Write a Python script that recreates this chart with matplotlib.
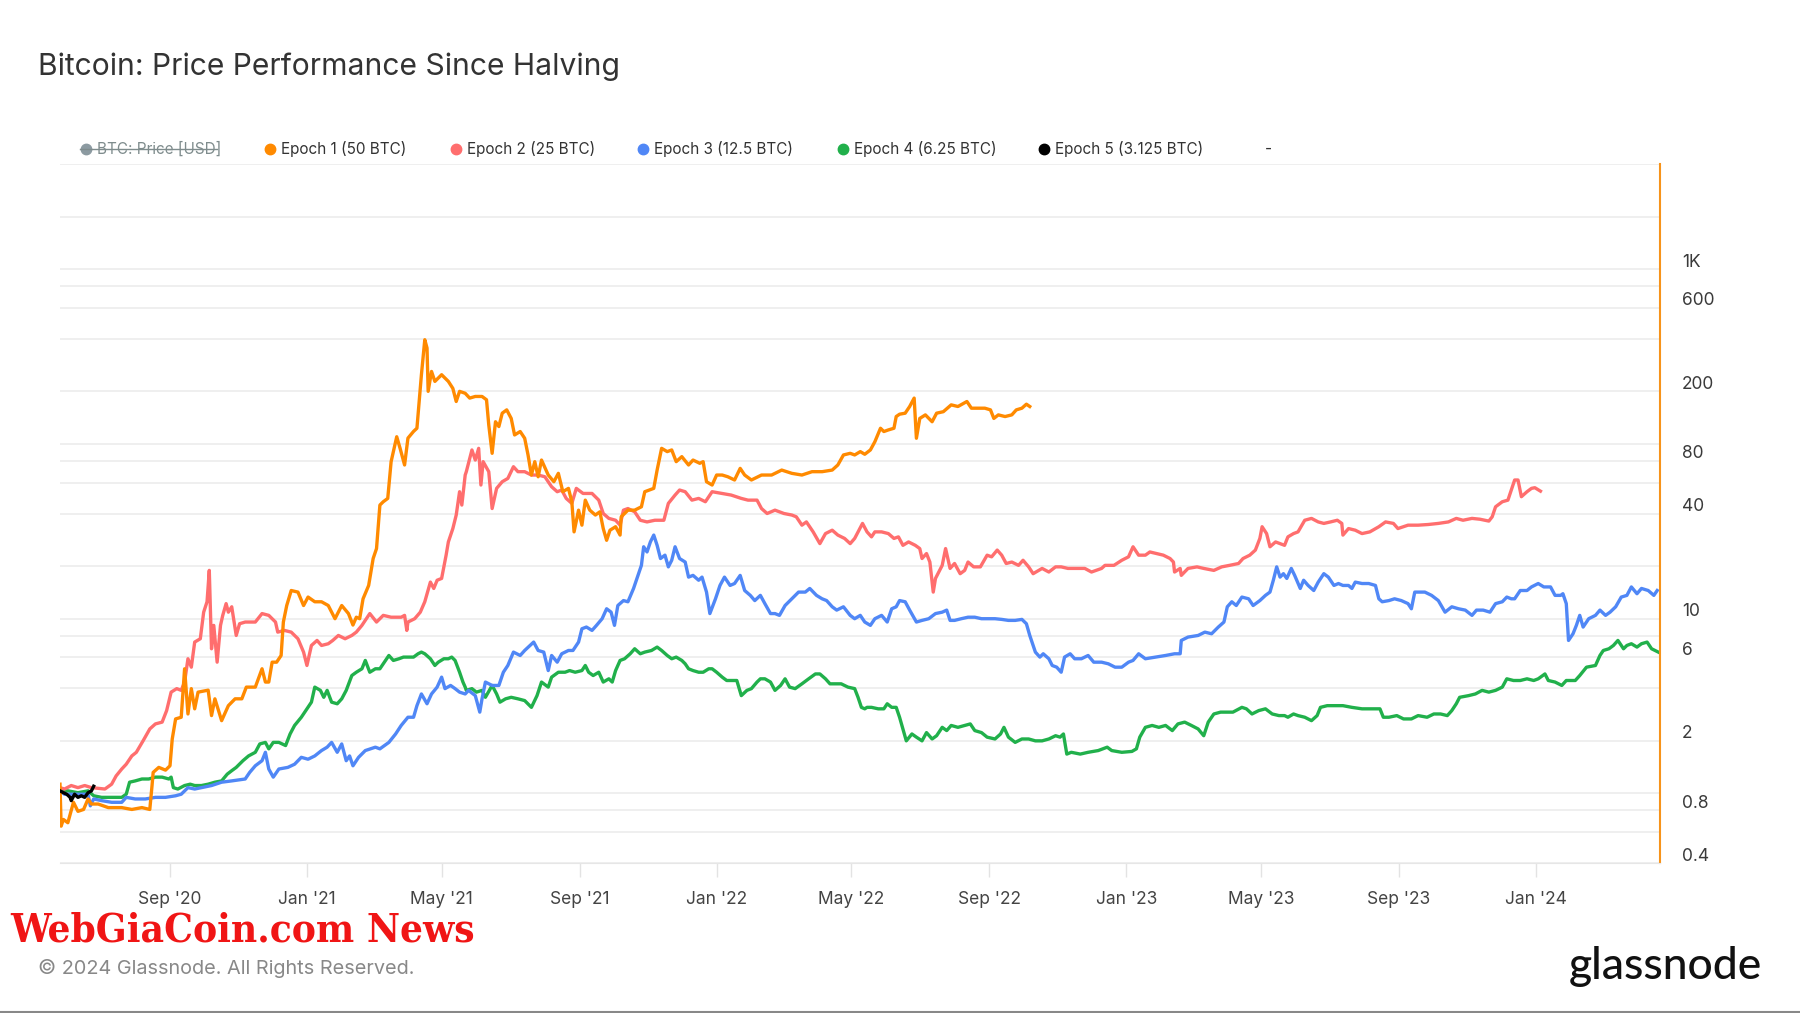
import pandas as pd
import matplotlib
matplotlib.use("Agg")
import matplotlib.pyplot as plt
import matplotlib.dates as mdates
from matplotlib.lines import Line2D
from matplotlib.transforms import ScaledTranslation

plt.rcParams['font.family'] = ['Inter', 'DejaVu Sans']

# x axis: days counted from this date
start = pd.Timestamp('2020-05-26')

# Epoch 1 (50 BTC)
e1_day = [0, 1, 3, 7, 12, 16, 21, 25, 28, 34, 43, 55, 64, 73, 80, 82, 83, 88, 94, 98,
          100, 103, 108, 111, 114, 117, 120, 123, 132, 135, 138, 144, 150, 156, 162, 166, 174, 180, 183, 186,
          189, 193, 197, 199, 202, 206, 212, 217, 221, 227, 233, 239, 245, 251, 257, 261, 264, 267, 270, 275,
          279, 282, 285, 288, 292, 295, 300, 303, 307, 310, 315, 318, 322, 325, 327, 328, 331, 334, 340, 346,
          350, 353, 356, 361, 365, 370, 376, 380, 382, 385, 388, 391, 394, 398, 402, 405, 410, 414, 417, 420,
          423, 426, 429, 435, 440, 444, 448, 453, 456, 458, 462, 465, 468, 472, 477, 481, 484, 487, 490, 495,
          499, 500, 506, 512, 518, 521, 529, 532, 536, 541, 545, 549, 554, 560, 564, 570, 573, 576, 581, 585,
          590, 595, 601, 606, 610, 616, 625, 634, 643, 652, 661, 670, 679, 688, 693, 698, 704, 708, 713, 717,
          722, 726, 731, 734, 738, 743, 745, 748, 753, 757, 761, 763, 766, 771, 777, 781, 787, 794, 800, 808,
          812, 818, 824, 829, 832, 836, 842, 848, 852, 857, 861, 864]
e1_val = [1.13, 0.65, 0.71, 0.68, 0.89, 0.79, 0.81, 0.93, 0.87, 0.87, 0.83, 0.83, 0.81, 0.83, 0.81, 1.11, 1.32, 1.41, 1.36, 1.44,
          2.05, 2.67, 2.73, 5.17, 2.85, 3.98, 3.05, 3.80, 3.90, 2.79, 3.48, 2.61, 3.18, 3.48, 3.48, 4.06, 4.06, 5.17, 4.34, 4.34,
          5.64, 5.64, 6.16, 9.57, 11.9, 14.5, 14.2, 11.9, 13.3, 12.5, 12.5, 11.9, 10.0, 11.9, 10.7, 9.2, 10.2, 10.0, 13.0, 15.5,
          22.1, 25.2, 44.7, 46.7, 48.8, 79.2, 110, 94.4, 75.8, 108, 118, 123, 249, 395, 354, 200, 260, 228, 249, 228,
          208, 175, 200, 195, 183, 187, 187, 179, 128.5, 88.4, 134, 125.8, 150, 156.7, 140, 112.6, 117.8, 107.8, 86.5, 66.4,
          79.2, 64.9, 80.9, 66.4, 60.8, 67.9, 53.3, 55.7, 46.7, 31.4, 41.8, 34.3, 47.7, 41.8, 39.2, 40.9, 32.8, 28.1, 32.1, 33.6,
          30.1, 38.3, 41.8, 41.8, 43.7, 53.3, 55.7, 70.9, 94.4, 90.4, 92.4, 79.2, 84.6, 75.8, 80.9, 77.5, 79.2, 60.8, 58.2, 66.4,
          66.4, 64.9, 62.2, 72.5, 66.4, 62.2, 66.4, 66.4, 70.9, 67.9, 66.4, 69.4, 69.4, 70.9, 75.8, 86.5, 88.4, 86.5, 90.4, 87.3,
          92.4, 103, 123, 117.8, 120.3, 123, 143.5, 148, 150, 163.8, 183, 107.8, 140, 146.7, 134, 150, 153, 167.4, 163.8, 175,
          160.2, 160.2, 160.2, 156.7, 140, 146.7, 143.5, 146.7, 156.7, 160.2, 168.9, 163.8]

# Epoch 2 (25 BTC)
e2_day = [0, 4, 10, 16, 22, 28, 34, 40, 46, 50, 55, 59, 64, 68, 74, 80, 85, 91, 95, 99,
          104, 108, 111, 114, 117, 120, 125, 128, 131, 133, 135, 137, 140, 143, 145, 148, 150, 153, 157, 160,
          165, 171, 174, 180, 186, 192, 194, 200, 206, 212, 217, 220, 224, 229, 233, 239, 243, 248, 254, 260,
          264, 269, 276, 282, 288, 295, 304, 307, 309, 310, 316, 321, 325, 330, 333, 336, 340, 344, 346, 350,
          353, 356, 358, 361, 362, 367, 370, 373, 375, 377, 382, 385, 389, 394, 399, 404, 408, 414, 420, 426,
          432, 438, 443, 447, 451, 456, 460, 466, 474, 480, 484, 489, 495, 499, 502, 506, 512, 517, 523, 530,
          538, 542, 548, 552, 557, 563, 569, 575, 581, 590, 598, 607, 613, 621, 625, 630, 637, 645, 652, 656,
          661, 665, 671, 677, 682, 688, 693, 699, 704, 708, 715, 719, 723, 726, 732, 738, 743, 747, 751, 756,
          762, 766, 768, 772, 775, 778, 780, 786, 789, 793, 797, 802, 806, 809, 814, 820, 826, 830, 835, 839,
          843, 848, 854, 858, 863, 867, 875, 881, 887, 892, 898, 904, 913, 919, 928, 931, 939, 946, 952, 956,
          961, 967, 971, 977, 983, 989, 992, 993, 998, 999, 1005, 1013, 1019, 1028, 1035, 1042, 1050, 1054, 1060, 1065,
          1069, 1071, 1075, 1078, 1083, 1087, 1091, 1094, 1099, 1103, 1109, 1115, 1121, 1126, 1132, 1138, 1142, 1143, 1148, 1154,
          1160, 1167, 1175, 1181, 1188, 1192, 1201, 1210, 1219, 1228, 1237, 1244, 1250, 1258, 1265, 1273, 1276, 1279, 1285, 1290,
          1293, 1296, 1299, 1302, 1307, 1311, 1314, 1319]
e2_val = [1.08, 1.06, 1.11, 1.08, 1.11, 1.08, 1.07, 1.06, 1.13, 1.26, 1.38, 1.47, 1.64, 1.72, 2.0, 2.34, 2.5, 2.56, 2.98, 3.8,
          3.98, 3.89, 4.34, 5.9, 5.28, 7.35, 7.68, 10.9, 12.5, 18.9, 6.73, 9.16, 5.64, 9.16, 10.45, 12.2, 10.9, 11.7, 8.02, 9.36,
          9.57, 9.57, 9.57, 10.7, 10.45, 9.57, 8.38, 8.57, 8.38, 7.68, 6.44, 5.40, 7.03, 7.51, 7.03, 7.19, 7.51, 8.02, 7.68, 8.02,
          8.38, 9.16, 10.7, 9.57, 10.45, 10.2, 10.2, 10.45, 8.57, 9.57, 10.0, 10.9, 12.5, 16.2, 14.9, 16.6, 17.0, 23.1, 27.5, 32.8,
          39.2, 53.3, 44.7, 66.4, 69.4, 92.4, 80.9, 94.4, 58.2, 79.2, 69.4, 42.7, 55.7, 60.8, 63.5, 74.1, 69.4, 69.4, 66.4, 66.4,
          64.9, 56.9, 53.3, 54.5, 48.8, 45.7, 55.7, 52.1, 52.1, 47.7, 40.0, 37.5, 36.6, 34.3, 41.8, 42.7, 40.9, 36.6, 35.8, 36.6,
          36.6, 45.7, 51.0, 54.5, 53.3, 47.7, 48.8, 46.7, 53.3, 52.1, 51.0, 48.8, 47.7, 47.7, 42.7, 40.0, 41.8, 40.0, 39.2, 38.3,
          34.3, 35.8, 31.4, 26.9, 30.7, 32.1, 30.1, 28.8, 26.9, 28.8, 35.1, 31.4, 29.4, 31.4, 31.4, 30.7, 28.8, 29.4, 26.3, 27.5,
          26.3, 25.2, 22.1, 23.6, 21.1, 14.2, 17.0, 20.2, 25.2, 19.4, 20.7, 18.1, 18.9, 21.1, 19.8, 19.8, 23.1, 22.6, 24.7, 23.1,
          20.7, 21.1, 20.2, 21.6, 19.8, 18.1, 19.4, 18.5, 19.8, 19.8, 19.4, 19.4, 19.4, 18.5, 19.4, 20.2, 20.2, 21.6, 22.6, 25.8,
          23.1, 23.1, 24.1, 23.6, 23.1, 22.1, 21.1, 18.5, 19.4, 17.7, 19.4, 19.8, 19.4, 18.9, 19.8, 20.2, 20.7, 22.1, 23.1, 24.7,
          28.8, 33.6, 30.7, 25.8, 27.5, 26.9, 26.3, 29.4, 30.7, 31.4, 36.6, 37.5, 35.8, 35.1, 35.8, 36.6, 35.1, 30.1, 32.8, 32.1,
          30.7, 31.4, 33.6, 35.8, 35.1, 32.8, 34.3, 34.3, 34.6, 35.1, 35.8, 37.5, 36.6, 37.5, 37.1, 36.2, 38.3, 43.7, 46.7, 47.7,
          54.5, 62.2, 62.2, 49.9, 53.3, 55.7, 56.2, 53.7]

# Epoch 3 (12.5 BTC)
e3_day = [0, 4, 13, 25, 27, 30, 37, 46, 55, 59, 67, 76, 85, 94, 103, 108, 114, 120, 126, 135,
          144, 153, 165, 169, 174, 180, 183, 186, 190, 195, 203, 209, 215, 221, 227, 233, 238, 242, 247, 251,
          255, 258, 261, 266, 272, 281, 285, 293, 299, 304, 310, 315, 318, 322, 327, 331, 336, 340, 343, 348,
          352, 356, 361, 364, 370, 374, 376, 379, 385, 391, 395, 399, 404, 410, 414, 422, 426, 431, 435, 438,
          443, 447, 453, 457, 462, 465, 469, 474, 478, 483, 487, 491, 494, 497, 502, 506, 511, 515, 518, 520,
          523, 526, 529, 532, 535, 539, 542, 545, 548, 552, 557, 560, 564, 569, 572, 576, 579, 584, 588, 592,
          597, 601, 606, 610, 615, 619, 624, 628, 633, 637, 641, 646, 652, 658, 664, 668, 674, 679, 683, 688,
          692, 698, 704, 708, 713, 717, 722, 726, 732, 737, 741, 745, 748, 753, 757, 763, 768, 774, 780, 786,
          790, 793, 797, 803, 809, 815, 821, 827, 833, 839, 845, 851, 857, 861, 864, 869, 873, 876, 881, 884,
          888, 892, 895, 900, 904, 910, 916, 921, 928, 934, 940, 946, 952, 956, 961, 967, 976, 985, 993, 998,
          999, 1005, 1014, 1020, 1026, 1032, 1037, 1040, 1044, 1048, 1053, 1059, 1063, 1069, 1074, 1078, 1081, 1084, 1087, 1090,
          1093, 1097, 1100, 1105, 1108, 1112, 1117, 1121, 1126, 1130, 1135, 1139, 1143, 1148, 1151, 1154, 1160, 1166, 1172, 1175,
          1178, 1184, 1189, 1195, 1201, 1204, 1207, 1210, 1216, 1222, 1228, 1234, 1240, 1246, 1252, 1258, 1262, 1268, 1274, 1279,
          1285, 1289, 1293, 1296, 1301, 1307, 1311, 1317, 1322, 1328, 1332, 1337, 1339, 1342, 1344, 1348, 1351, 1354, 1357, 1362,
          1368, 1372, 1377, 1381, 1386, 1391, 1396, 1400, 1405, 1409, 1415, 1420, 1423]
e3_val = [1.035, 0.99, 0.99, 0.99, 0.85, 0.93, 0.91, 0.89, 0.89, 0.95, 0.93, 0.93, 0.95, 0.95, 0.97, 0.99, 1.08, 1.06, 1.08, 1.11,
          1.16, 1.18, 1.21, 1.32, 1.44, 1.54, 1.72, 1.38, 1.24, 1.38, 1.41, 1.47, 1.61, 1.57, 1.64, 1.76, 1.84, 1.96, 1.72, 1.92,
          1.54, 1.64, 1.44, 1.61, 1.76, 1.84, 1.80, 1.96, 2.19, 2.45, 2.73, 2.73, 3.18, 3.71, 3.26, 3.71, 4.06, 4.63, 3.98, 4.15,
          3.98, 3.80, 3.71, 3.89, 3.63, 2.92, 3.48, 4.34, 4.15, 4.15, 4.94, 5.40, 6.44, 6.16, 6.58, 7.35, 6.58, 6.44, 5.05, 6.16,
          5.64, 6.30, 6.58, 6.58, 7.35, 8.76, 8.96, 8.57, 9.16, 10.0, 11.4, 10.9, 9.16, 11.9, 12.7, 12.5, 14.9, 17.7, 20.2, 25.8,
          24.1, 27.5, 30.1, 26.3, 22.1, 23.1, 19.8, 21.6, 25.8, 22.1, 21.1, 17.3, 17.7, 16.6, 17.3, 14.2, 10.7, 13.0, 15.5, 17.3,
          15.5, 15.9, 17.7, 14.5, 13.6, 12.7, 13.6, 12.2, 10.7, 10.7, 10.45, 11.9, 13.0, 14.2, 14.2, 14.9, 13.6, 13.0, 12.7, 11.7,
          11.2, 11.7, 10.45, 10.0, 10.45, 9.57, 9.16, 10.0, 10.45, 9.57, 11.4, 11.7, 12.7, 12.5, 11.2, 9.57, 9.78, 10.0, 10.7, 10.9,
          11.2, 9.78, 9.78, 10.0, 10.2, 10.2, 10.0, 10.0, 10.0, 9.91, 9.78, 9.78, 9.91, 9.36, 8.02, 6.44, 6.03, 6.30, 5.90, 5.40,
          5.28, 4.94, 6.03, 6.30, 5.90, 5.90, 6.16, 5.64, 5.64, 5.52, 5.28, 5.28, 5.64, 5.77, 6.30, 5.90, 6.03, 6.16, 6.30, 6.30,
          7.51, 7.85, 8.02, 8.38, 8.2, 8.96, 9.57, 11.7, 12.5, 11.9, 13.3, 13.0, 11.9, 12.7, 13.6, 14.2, 16.6, 19.8, 17.3, 18.1,
          17.0, 19.4, 17.7, 14.9, 16.6, 15.5, 14.5, 16.2, 18.1, 17.3, 15.5, 15.9, 15.5, 15.5, 14.9, 16.2, 15.9, 15.9, 15.5, 13.0,
          12.5, 12.7, 13.0, 12.7, 12.2, 11.4, 14.2, 14.2, 14.2, 13.6, 12.7, 10.9, 11.7, 11.4, 11.2, 10.45, 11.2, 11.2, 10.9, 12.2,
          12.5, 13.3, 13.0, 13.0, 14.5, 14.5, 15.2, 15.9, 15.2, 15.2, 13.6, 13.6, 13.9, 12.2, 7.51, 8.2, 9.16, 10.45, 8.96, 10.0,
          10.45, 11.2, 10.45, 10.9, 11.7, 13.3, 13.6, 15.2, 13.9, 14.9, 14.5, 13.6, 14.5]

# Epoch 4 (6.25 BTC)
e4_day = [0, 7, 16, 25, 30, 37, 46, 55, 59, 62, 67, 73, 79, 85, 91, 97, 99, 101, 105, 111,
          116, 120, 126, 132, 138, 144, 149, 153, 157, 163, 168, 174, 178, 183, 186, 190, 195, 201, 205, 209,
          215, 220, 224, 227, 232, 235, 238, 242, 247, 251, 255, 260, 264, 269, 272, 276, 281, 285, 290, 293,
          297, 302, 306, 310, 315, 319, 322, 325, 330, 334, 337, 342, 346, 349, 352, 356, 359, 361, 362, 367,
          371, 376, 379, 385, 389, 392, 397, 402, 408, 414, 420, 425, 429, 435, 438, 444, 450, 454, 459, 465,
          468, 471, 475, 480, 484, 489, 492, 495, 499, 503, 508, 512, 517, 521, 527, 532, 536, 541, 545, 549,
          554, 557, 560, 564, 569, 573, 578, 581, 585, 590, 594, 598, 603, 607, 612, 616, 621, 624, 628, 633,
          637, 642, 646, 650, 655, 661, 667, 673, 677, 682, 686, 691, 696, 702, 708, 711, 714, 717, 719, 723,
          729, 734, 737, 741, 745, 748, 751, 754, 759, 763, 768, 772, 777, 781, 786, 790, 794, 800, 806, 811,
          815, 821, 826, 833, 838, 841, 845, 851, 857, 863, 869, 875, 881, 887, 891, 894, 897, 901, 909, 916,
          925, 933, 937, 946, 955, 959, 962, 967, 973, 979, 985, 991, 996, 1002, 1008, 1014, 1019, 1023, 1028, 1034,
          1040, 1045, 1053, 1057, 1062, 1068, 1074, 1080, 1086, 1091, 1094, 1099, 1103, 1109, 1115, 1120, 1123, 1129, 1136, 1143,
          1151, 1160, 1169, 1176, 1179, 1184, 1191, 1197, 1204, 1210, 1218, 1224, 1230, 1236, 1240, 1244, 1247, 1255, 1261, 1267,
          1273, 1279, 1285, 1289, 1295, 1301, 1307, 1313, 1317, 1323, 1326, 1332, 1338, 1342, 1350, 1354, 1360, 1368, 1372, 1375,
          1380, 1384, 1388, 1393, 1396, 1400, 1405, 1409, 1414, 1418, 1424]
e4_val = [1.035, 1.035, 1.01, 1.035, 0.97, 0.95, 0.95, 0.95, 0.99, 1.16, 1.18, 1.21, 1.21, 1.24, 1.24, 1.21, 1.24, 1.08, 1.06, 1.11,
          1.13, 1.11, 1.11, 1.13, 1.16, 1.18, 1.29, 1.35, 1.41, 1.54, 1.64, 1.72, 1.92, 1.96, 1.80, 1.96, 1.96, 1.88, 2.19, 2.45,
          2.73, 3.05, 3.33, 4.06, 3.89, 3.55, 3.89, 3.33, 3.26, 3.48, 3.89, 4.73, 4.94, 5.17, 5.77, 4.94, 5.17, 5.17, 5.77, 6.16,
          5.77, 5.90, 6.03, 6.03, 6.03, 6.30, 6.44, 6.30, 5.90, 5.40, 5.64, 5.90, 5.90, 6.03, 5.77, 4.94, 4.34, 4.06, 3.89, 3.98,
          3.80, 3.89, 3.55, 4.15, 3.71, 3.33, 3.48, 3.55, 3.48, 3.40, 3.11, 3.63, 4.34, 4.06, 4.63, 4.94, 4.94, 5.05, 4.94, 5.05,
          5.40, 4.94, 4.73, 4.94, 4.34, 4.53, 4.34, 5.05, 5.77, 5.90, 6.30, 6.73, 6.30, 6.44, 6.58, 6.88, 6.58, 6.16, 5.90, 6.03,
          5.77, 5.52, 5.17, 5.05, 4.94, 4.94, 5.17, 5.17, 4.94, 4.63, 4.43, 4.43, 4.43, 3.63, 3.89, 3.98, 4.34, 4.53, 4.53, 4.34,
          3.89, 4.15, 4.53, 4.06, 3.98, 4.24, 4.53, 4.83, 4.83, 4.53, 4.24, 4.24, 4.24, 4.06, 3.98, 3.55, 3.11, 3.05, 3.11, 3.11,
          3.05, 3.05, 3.26, 3.11, 3.11, 2.73, 2.34, 2.0, 2.19, 2.10, 2.0, 2.23, 2.05, 2.14, 2.39, 2.29, 2.45, 2.39, 2.45, 2.50,
          2.29, 2.23, 2.10, 2.05, 2.19, 2.39, 2.10, 1.96, 2.05, 2.05, 2.0, 2.0, 2.05, 2.14, 2.10, 2.19, 1.68, 1.72, 1.68, 1.72,
          1.76, 1.84, 1.76, 1.72, 1.74, 1.80, 2.10, 2.39, 2.45, 2.39, 2.45, 2.29, 2.50, 2.56, 2.45, 2.34, 2.14, 2.56, 2.85, 2.92,
          2.92, 2.92, 3.11, 3.05, 2.85, 2.98, 3.05, 2.85, 2.79, 2.79, 2.73, 2.85, 2.79, 2.73, 2.61, 2.79, 3.11, 3.18, 3.18, 3.18,
          3.11, 3.05, 3.05, 3.05, 2.73, 2.73, 2.79, 2.67, 2.67, 2.79, 2.73, 2.85, 2.85, 2.79, 2.98, 3.26, 3.55, 3.63, 3.71, 3.89,
          3.80, 3.89, 4.06, 4.53, 4.43, 4.43, 4.53, 4.43, 4.53, 4.83, 4.43, 4.34, 4.15, 4.43, 4.43, 4.73, 5.28, 5.40, 6.16, 6.58,
          6.73, 7.03, 7.51, 6.73, 7.03, 7.19, 6.88, 7.19, 7.35, 6.73, 6.44]

# Epoch 5 (3.125 BTC)
e5_day = [0, 3, 6, 9, 10, 13, 16, 19, 22, 25, 28, 30]
e5_val = [1.035, 1.01, 0.99, 0.95, 0.91, 0.99, 0.95, 0.97, 0.95, 1.01, 1.035, 1.10]

series = [
    ('Epoch 4 (6.25 BTC)', e4_day, e4_val, '#21b04b'),
    ('Epoch 3 (12.5 BTC)', e3_day, e3_val, '#5087f6'),
    ('Epoch 2 (25 BTC)', e2_day, e2_val, '#ff6e6e'),
    ('Epoch 1 (50 BTC)', e1_day, e1_val, '#ff8a00'),
    ('Epoch 5 (3.125 BTC)', e5_day, e5_val, '#000000'),
]

grid_vals = [0.4, 0.6, 0.8, 1, 2, 4, 6, 8, 10, 20, 40, 60, 80, 100, 200, 400, 600, 800, 1000, 2000, 4000]
y_labels = {1000: '1K', 600: '600', 200: '200', 80: '80', 40: '40', 10: '10', 6: '6', 2: '2', 0.8: '0.8', 0.4: '0.4'}
x_ticks = ['2020-09-01', '2021-01-01', '2021-05-01', '2021-09-01', '2022-01-01', '2022-05-01',
           '2022-09-01', '2023-01-01', '2023-05-01', '2023-09-01', '2024-01-01']

fig = plt.figure(figsize=(18, 10.13), dpi=100)
ax = fig.add_axes([60 / 1800, 150 / 1013, 1600 / 1800, 699 / 1013])

for name, d, v, c in series:
    x = start + pd.to_timedelta(d, unit='D')
    ax.plot(x, v, color=c, lw=2.4, solid_joinstyle='round')

ax.set_yscale('log')
ax.set_ylim(0.4, 4000)
ax.set_xlim(start, start + pd.Timedelta(days=1425.5))

ax.set_yticks(grid_vals)
ax.set_yticks([], minor=True)
ax.set_yticklabels([y_labels.get(g, '') for g in grid_vals])
ax.yaxis.tick_right()
ax.tick_params(axis='y', length=0, pad=16, labelsize=12.5, labelcolor='#3a3a3a')
for lab in ax.get_yticklabels():
    lab.set_transform(lab.get_transform() + ScaledTranslation(0, 0.09, fig.dpi_scale_trans))
ax.grid(axis='y', color='#ececec', lw=1.2)

ax.set_xticks([pd.Timestamp(t) for t in x_ticks])
ax.xaxis.set_major_formatter(mdates.DateFormatter("%b '%y"))
ax.tick_params(axis='x', length=10, width=1, color='#e3e3e3', pad=10.5, labelsize=12.5, labelcolor='#444444')

for s in ['left', 'top']:
    ax.spines[s].set_visible(False)
ax.spines['bottom'].set_color('#e6e6e6')
ax.spines['right'].set_color('#f7931a')
ax.spines['right'].set_linewidth(1.5)

# title
fig.text(38 / 1800, 1 - 67 / 1013, 'Bitcoin: Price Performance Since Halving', fontsize=21.6,
         color='#333333', va='center', ha='left')

# legend row
ly = 1 - 149 / 1013
legend_items = [('BTC: Price [USD]', '#8c9aa1', 86), ('Epoch 1 (50 BTC)', '#ff8a00', 270),
                ('Epoch 2 (25 BTC)', '#ff6e6e', 456), ('Epoch 3 (12.5 BTC)', '#5087f6', 643),
                ('Epoch 4 (6.25 BTC)', '#21b04b', 843), ('Epoch 5 (3.125 BTC)', '#000000', 1044)]
for i, (lab, c, px) in enumerate(legend_items):
    fig.add_artist(Line2D([px / 1800], [ly], marker='o', ms=7.5, color=c, transform=fig.transFigure))
    fig.text((px + 11) / 1800, ly, lab, fontsize=11, va='center', ha='left',
             color='#7f8c8d' if i == 0 else '#333333')
fig.add_artist(Line2D([80 / 1800, 217 / 1800], [ly, ly], color='#7f8c8d', lw=1, transform=fig.transFigure))
fig.text(1265 / 1800, ly, '-', fontsize=11, va='center', ha='left', color='#333333')

# footer
fig.text(10 / 1800, 1 - 930 / 1013, 'WebGiaCoin.com News', fontsize=29, color='#f01515',
         family='DejaVu Serif', fontweight='bold', fontstretch='condensed', va='center', ha='left')
fig.text(38 / 1800, 1 - 968 / 1013, '\u00a9 2024 Glassnode. All Rights Reserved.', fontsize=14.3,
         color='#888888', va='center', ha='left')
fig.text(1762 / 1800, 1 - 966 / 1013, 'glassnode', fontsize=32, color='#111111',
         family=['Lato', 'DejaVu Sans'], fontweight='medium', va='center', ha='right')
fig.add_artist(Line2D([0, 1], [1.5 / 1013, 1.5 / 1013], color='#888888', lw=1.5, transform=fig.transFigure))

fig.savefig('out.png', dpi=100, facecolor='white')
